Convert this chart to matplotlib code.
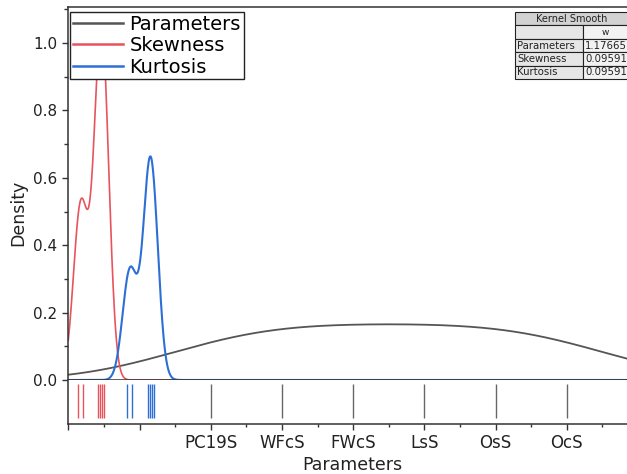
import numpy as np
import matplotlib
matplotlib.use("Agg")
import matplotlib.pyplot as plt
from matplotlib.patches import Rectangle
from matplotlib.ticker import MultipleLocator, FixedLocator

# ---------------- data ----------------
param_labels = ["PC19S", "WFcS", "FWcS", "LsS", "OsS", "OcS"]
param_pos = [3, 4, 5, 6, 7, 8]
skew_vals = [1.141, 1.211, 1.422, 1.451, 1.479, 1.507]
kurt_vals = [1.831, 1.901, 2.113, 2.141, 2.169, 2.197]
bw_params = 1.17665
bw_skew = 0.09591
bw_kurt = 0.09591
# number of observations in each sample (values outside the shown range are not visible)
n_params = 6
n_skew = 15
n_kurt = 24
table_rows = ["Parameters", "Skewness", "Kurtosis"]
table_vals = ["1.17665", "0.09591", "0.09591"]

x_min, x_max = 1.0, 8.875
y_min, y_max = 0.0, 1.107

C_GRAY = "#555555"
C_RED = "#e8535d"
C_BLUE = "#2e6fd6"
C_SPINE = "#333333"


def kde(grid, values, bw, n):
    values = np.asarray(values, float)
    z = (grid[:, None] - values[None, :]) / bw
    return np.exp(-0.5 * z ** 2).sum(axis=1) / (np.sqrt(2 * np.pi) * bw * n)


plt.rcParams["font.family"] = ["DejaVu Sans"]

W, H = 627, 474
fig = plt.figure(figsize=(W / 100, H / 100), dpi=100)

left = 68.3 / W
width = (629 - 68.3) / W
ax = fig.add_axes([left, (H - 380) / H, width, (380 - 7) / H])
axr = fig.add_axes([left, (H - 424) / H, width, 44 / H], sharex=ax)

grid = np.linspace(x_min, x_max, 1200)
ax.plot(grid, kde(grid, param_pos, bw_params, n_params), color=C_GRAY, lw=1.3, label="Parameters")
ax.plot(grid, kde(grid, skew_vals, bw_skew, n_skew), color=C_RED, lw=1.2, label="Skewness")
ax.plot(grid, kde(grid, kurt_vals, bw_kurt, n_kurt), color=C_BLUE, lw=1.5, label="Kurtosis")

ax.set_xlim(x_min, x_max)
ax.set_ylim(y_min, y_max)
ax.yaxis.set_major_locator(MultipleLocator(0.2))
ax.yaxis.set_minor_locator(MultipleLocator(0.1))
ax.yaxis.set_major_formatter(matplotlib.ticker.FormatStrFormatter("%.1f"))
ax.tick_params(axis="y", which="major", direction="out", length=4, width=1.0,
               color=C_SPINE, labelsize=11, pad=4, labelcolor="#222222")
ax.tick_params(axis="y", which="minor", direction="out", length=3, width=1.0, color=C_SPINE)
ax.tick_params(axis="x", which="both", bottom=False, labelbottom=False)
ax.spines["right"].set_visible(False)
for s in ["left", "top", "bottom"]:
    ax.spines[s].set_color(C_SPINE)
    ax.spines[s].set_linewidth(1.1)

# rug panel
axr.vlines(param_pos, 0.14, 0.91, color="#666666", lw=1.0)
axr.vlines(skew_vals, 0.14, 0.91, color=C_RED, lw=1.0)
axr.vlines(kurt_vals, 0.14, 0.91, color=C_BLUE, lw=1.0)
axr.set_ylim(0, 1)
axr.set_yticks([])
axr.spines["top"].set_visible(False)
axr.spines["right"].set_visible(False)
for s in ["left", "bottom"]:
    axr.spines[s].set_color(C_SPINE)
    axr.spines[s].set_linewidth(1.1)
axr.xaxis.set_major_locator(FixedLocator([1, 2] + param_pos))
axr.set_xticklabels(["", ""] + param_labels)
axr.xaxis.set_minor_locator(MultipleLocator(0.5))
axr.tick_params(axis="x", which="major", direction="out", length=4, width=1.0,
                color=C_SPINE, labelsize=12, pad=3, labelcolor="#222222")
axr.tick_params(axis="x", which="minor", direction="out", length=2.5, width=1.0, color=C_SPINE)
axr.set_xlim(x_min, x_max)

fig.text(18 / W, 1 - 213 / H, "Density", rotation=90, ha="center", va="center",
         fontsize=12.5, color="#222222")
fig.text(352 / W, 1 - 465 / H, "Parameters", ha="center", va="center",
         fontsize=12.5, color="#222222")

leg = ax.legend(loc="upper left", bbox_to_anchor=((70 - 68.3) / (629 - 68.3), 1 - 5 / 373),
                borderaxespad=0, fontsize=14, handlelength=2.6, handletextpad=0.3,
                labelspacing=0.12, borderpad=0.15, frameon=True, fancybox=False,
                framealpha=1.0)
leg.get_frame().set_edgecolor("#222222")
leg.get_frame().set_facecolor("white")
leg.get_frame().set_linewidth(1.0)
for line in leg.get_lines():
    line.set_linewidth(1.8)

# table (drawn in pixel coordinates on an overlay axes)
ov = fig.add_axes([0, 0, 1, 1], facecolor="none")
ov.set_xlim(0, W)
ov.set_ylim(H, 0)
ov.axis("off")
tx0, tdiv, tx1 = 515, 583, 650
row_edges = [12, 25.4, 38.8, 52.2, 65.6, 79]
ov.add_patch(Rectangle((tx0, row_edges[0]), tx1 - tx0, row_edges[1] - row_edges[0],
                       facecolor="#d2d2d2", edgecolor="#222222", lw=0.8))
ov.text((tx0 + 627) / 2 + 1, (row_edges[0] + row_edges[1]) / 2, "Kernel Smooth",
        ha="center", va="center", fontsize=7, color="#222222")
for i in range(1, 5):
    y0, y1 = row_edges[i], row_edges[i + 1]
    ov.add_patch(Rectangle((tx0, y0), tdiv - tx0, y1 - y0, facecolor="#e6e6e6",
                           edgecolor="#222222", lw=0.8))
    ov.add_patch(Rectangle((tdiv, y0), tx1 - tdiv, y1 - y0, facecolor="#f2f2f2",
                           edgecolor="#222222", lw=0.8))
ov.text((tdiv + 627) / 2, (row_edges[1] + row_edges[2]) / 2, "w", ha="center",
        va="center", fontsize=6.5, color="#222222")
for i, (lab, val) in enumerate(zip(table_rows, table_vals)):
    yc = (row_edges[i + 2] + row_edges[i + 3]) / 2
    ov.text(tx0 + 2, yc, lab, ha="left", va="center", fontsize=7.3, color="#222222")
    ov.text(tdiv + 2, yc, val, ha="left", va="center", fontsize=7.3, color="#222222")

fig.savefig("out.png", dpi=100)
